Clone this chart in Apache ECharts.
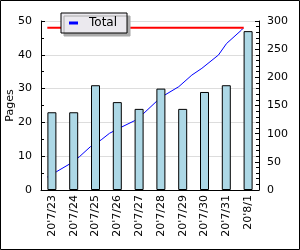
<!DOCTYPE html>
<html><head><meta charset="utf-8">
<script src="https://cdn.jsdelivr.net/npm/echarts@6/dist/echarts.min.js"></script>
<style>html,body{margin:0;padding:0;background:#fff}#c{width:300px;height:250px}</style>
</head><body><div id="c"></div>
<script>
const categories = ["20'7/23","20'7/24","20'7/25","20'7/26","20'7/27","20'7/28","20'7/29","20'7/30","20'7/31","20'8/1"];
const pages = [23, 23, 31, 26, 24, 30, 24, 29, 31, 47];
// cumulative total line: [position in days, value]
const totalLine = [[0.29,23],[0.71,32.5],[1.29,45.6],[1.76,59],[2.27,77],[2.76,89],[3.14,100.6],[3.71,112],[4.29,123],[4.71,136],[5.29,157],[5.68,168.6],[6.32,183.4],[6.92,204],[7.38,216],[8.14,239.6],[8.51,260],[9.2,284],[9.27,287]];
const totalMark = [[0.29,288],[9.3,288]];
const leftTicks = {min:0, max:50, interval:10};
const rightTicks = {min:0, max:300, interval:50};

const font = 'DejaVu Sans';
const chart = echarts.init(document.getElementById('c'));
chart.setOption({
  animation:false,
  backgroundColor:'#fff',
  textStyle:{fontFamily:font},
  graphic:[{type:'rect',shape:{x:0.5,y:0.5,width:299,height:249},style:{fill:'none',stroke:'#000',lineWidth:1},z:100}],
  grid:{left:41,top:21,right:41,bottom:60,containLabel:false,outerBoundsMode:'none'},
  legend:{
    data:['Total'],left:61,top:13,orient:'horizontal',
    backgroundColor:'#ebe9ee',borderColor:'#000',borderWidth:1,
    padding:[4,10,4,8],itemGap:6,
    shadowColor:'#aaa',shadowOffsetX:3,shadowOffsetY:3,shadowBlur:0,
    icon:'rect',itemWidth:9,itemHeight:3,
    textStyle:{fontFamily:font,fontSize:12,color:'#000',padding:[0,0,0,6]}
  },
  xAxis:[{
    type:'category',data:categories,gridIndex:0,
    axisLine:{lineStyle:{color:'#000',width:1}},
    axisTick:{inside:true,length:4,lineStyle:{color:'#000'}},
    axisLabel:{rotate:90,fontSize:11,color:'#000',fontFamily:font,margin:5,interval:0}
  },{
    type:'value',min:0,max:10,show:false,gridIndex:0
  }],
  yAxis:[{
    type:'value',min:leftTicks.min,max:leftTicks.max,interval:leftTicks.interval,
    name:'Pages',nameLocation:'middle',nameGap:25,nameRotate:90,nameMoveOverlap:false,
    nameTextStyle:{fontSize:11,color:'#000',fontFamily:font},
    axisLine:{show:true,lineStyle:{color:'#000'}},
    axisTick:{show:true,inside:true,length:4,lineStyle:{color:'#000'}},
    minorTick:{show:true,splitNumber:2,length:3,lineStyle:{color:'#000'}},
    splitLine:{show:true,lineStyle:{color:'#dddddd'}},
    axisLabel:{fontSize:11,color:'#000',fontFamily:font,margin:9}
  },{
    type:'value',min:rightTicks.min,max:rightTicks.max,interval:rightTicks.interval,position:'right',
    axisLine:{show:true,lineStyle:{color:'#000'}},
    axisTick:{show:true,inside:true,length:4,lineStyle:{color:'#000'}},
    minorTick:{show:true,splitNumber:5,length:3,lineStyle:{color:'#000'}},
    splitLine:{show:false},
    axisLabel:{fontSize:11,color:'#000',fontFamily:font,margin:8}
  }],
  series:[{
    name:'Total',type:'line',xAxisIndex:1,yAxisIndex:1,data:totalLine,
    showSymbol:false,symbol:'none',lineStyle:{color:'#0000ff',width:1},itemStyle:{color:'#0000ff'},z:1
  },{
    name:'mark',type:'line',xAxisIndex:1,yAxisIndex:1,data:totalMark,
    showSymbol:false,symbol:'none',lineStyle:{color:'#ff0000',width:2},z:1
  },{
    name:'Pages',type:'bar',xAxisIndex:0,yAxisIndex:0,data:pages,barWidth:9,
    itemStyle:{color:'#add8e6',borderColor:'#000',borderWidth:1},z:3
  }]
});
</script></body></html>
